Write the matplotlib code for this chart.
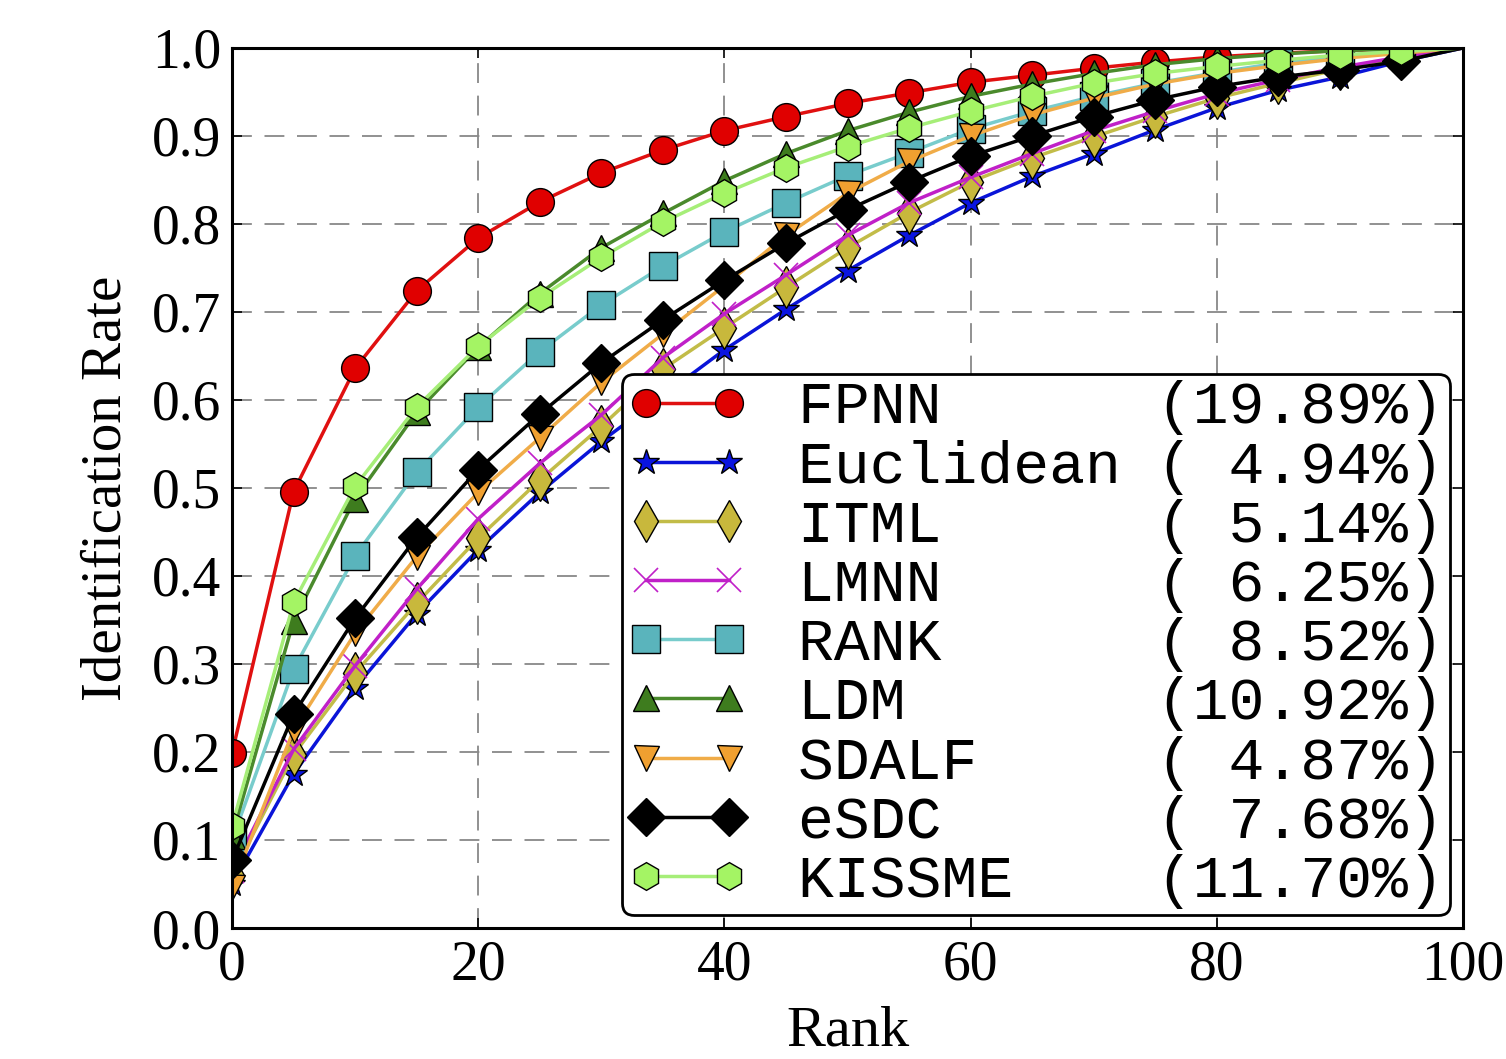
import matplotlib
matplotlib.use("Agg")
import matplotlib.pyplot as plt

# CMC curves, markers read every 5 ranks, all reach 1.0 at rank 100
ranks = [0, 5, 10, 15, 20, 25, 30, 35, 40, 45, 50, 55, 60, 65, 70, 75, 80, 85, 90, 95, 100]

fpnn = [0.199, 0.496, 0.636, 0.724, 0.784, 0.825, 0.858, 0.884, 0.906, 0.922, 0.937,
        0.949, 0.961, 0.969, 0.977, 0.984, 0.990, 0.994, 0.997, 0.999, 1.0]
euclidean = [0.050, 0.175, 0.273, 0.357, 0.430, 0.495, 0.553, 0.605, 0.657, 0.703, 0.747,
             0.787, 0.824, 0.854, 0.880, 0.907, 0.932, 0.952, 0.967, 0.985, 1.0]
itml = [0.060, 0.197, 0.290, 0.369, 0.443, 0.509, 0.570, 0.635, 0.682, 0.728, 0.773,
        0.813, 0.848, 0.875, 0.899, 0.922, 0.943, 0.960, 0.976, 0.989, 1.0]
lmnn = [0.065, 0.203, 0.298, 0.385, 0.465, 0.528, 0.583, 0.648, 0.698, 0.742, 0.787,
        0.824, 0.853, 0.880, 0.906, 0.928, 0.948, 0.964, 0.978, 0.990, 1.0]
rank_m = [0.100, 0.294, 0.423, 0.518, 0.592, 0.655, 0.708, 0.752, 0.791, 0.824, 0.855,
          0.881, 0.908, 0.928, 0.945, 0.960, 0.972, 0.983, 0.991, 0.997, 1.0]
ldm = [0.105, 0.349, 0.488, 0.586, 0.660, 0.721, 0.773, 0.812, 0.849, 0.880, 0.906,
       0.927, 0.945, 0.959, 0.971, 0.981, 0.988, 0.993, 0.997, 0.999, 1.0]
sdalf = [0.047, 0.225, 0.335, 0.422, 0.495, 0.557, 0.620, 0.675, 0.730, 0.787, 0.835,
         0.871, 0.900, 0.924, 0.943, 0.959, 0.971, 0.980, 0.988, 0.994, 1.0]
esdc = [0.077, 0.243, 0.352, 0.444, 0.521, 0.584, 0.642, 0.691, 0.736, 0.778, 0.816,
        0.848, 0.877, 0.900, 0.922, 0.941, 0.956, 0.967, 0.975, 0.985, 1.0]
kissme = [0.116, 0.370, 0.502, 0.592, 0.661, 0.716, 0.762, 0.802, 0.835, 0.864, 0.888,
          0.909, 0.928, 0.945, 0.960, 0.971, 0.979, 0.986, 0.992, 0.996, 1.0]

names = ["FPNN", "Euclidean", "ITML", "LMNN", "RANK", "LDM", "SDALF", "eSDC", "KISSME"]
rank1 = [19.89, 4.94, 5.14, 6.25, 8.52, 10.92, 4.87, 7.68, 11.70]
series = [fpnn, euclidean, itml, lmnn, rank_m, ldm, sdalf, esdc, kissme]

# (marker, size, line color, face color)
styles = [
    ("o", 20, "#e01010", "#e00000"),
    ("*", 19, "#0a14d8", "#0a14e0"),
    ("d", 21, "#c2bc48", "#c8b83c"),
    ("x", 17, "#c020c8", "#c020c8"),
    ("s", 20, "#78cccc", "#5ab4bc"),
    ("^", 19, "#4a8a2c", "#3e7c1e"),
    ("v", 18, "#f0ac48", "#f0a030"),
    ("D", 19, "#000000", "#000000"),
    ("h", 20, "#a6ee78", "#a4f464"),
]

plt.rcParams["font.family"] = ["Liberation Serif", "DejaVu Serif"]

fig = plt.figure(figsize=(15.06, 10.59), dpi=100)
ax = fig.add_axes([0.1541, 0.1237, 0.8173, 0.8310])

for name, r1, ys, (mk, ms, lc, fc) in zip(names, rank1, series, styles):
    label = f"{name:<10}({r1:5.2f}%)"
    if mk == "x":
        ax.plot(ranks, ys, color=lc, lw=2.5, marker=mk, ms=ms, mew=1.2,
                markevery=slice(0, -1), label=label)
    else:
        ax.plot(ranks, ys, color=lc, lw=2.5, marker=mk, ms=ms, mfc=fc, mec="black",
                mew=1.0, markevery=slice(0, -1), label=label)

ax.set_xlim(0, 100)
ax.set_ylim(0, 1.0)
ax.set_xticks([0, 20, 40, 60, 80, 100])
ax.set_yticks([i / 10 for i in range(11)])
ax.set_yticklabels([f"{i / 10:.1f}" for i in range(11)])
ax.tick_params(direction="in", top=True, right=True, length=7, width=1.2,
               labelsize=40, pad=8)
ax.grid(True, color="#888888", linestyle=(0, (11, 7)), linewidth=1.3)
for sp in ax.spines.values():
    sp.set_linewidth(2.2)

ax.set_xlabel("Rank", fontsize=42, labelpad=10)
ax.set_ylabel("Identification Rate", fontsize=41, labelpad=14)

leg = ax.legend(loc="lower right", numpoints=2,
                prop={"family": "Liberation Mono", "size": 43},
                handlelength=2.0, handletextpad=0.85, labelspacing=0.07,
                borderpad=0.1, borderaxespad=0.22, fancybox=True, framealpha=1)
leg.get_frame().set_edgecolor("black")
leg.get_frame().set_linewidth(2.0)

fig.savefig("out.png", dpi=100)
